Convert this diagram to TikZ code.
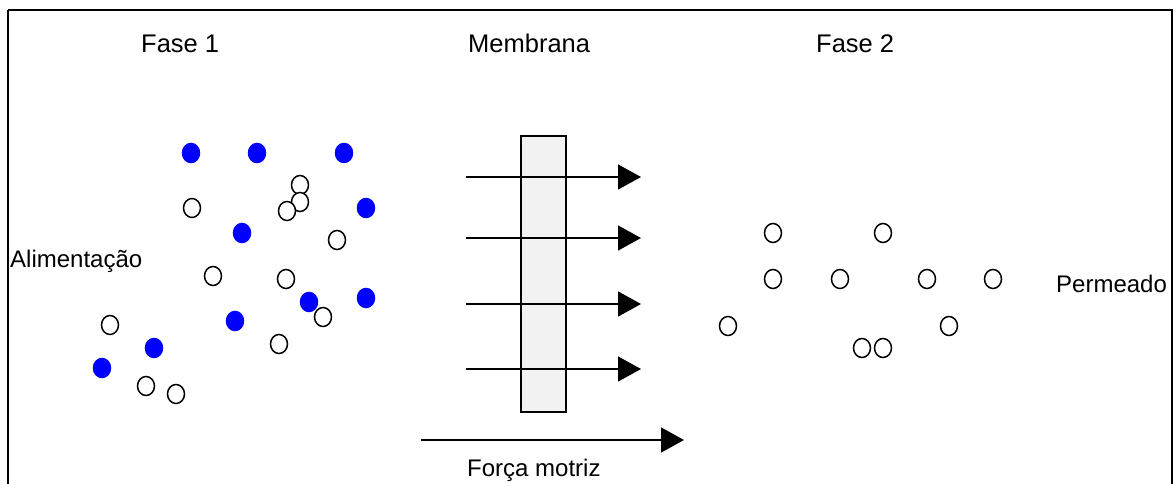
\documentclass[tikz,border=0pt]{standalone}
\usepackage{fontspec}
\setmainfont{Liberation Sans}
\usetikzlibrary{arrows.meta,shapes.geometric}
\definecolor{molblue}{RGB}{0,0,255}
\definecolor{membfill}{RGB}{242,242,242}
\begin{document}
\begin{tikzpicture}[x=1pt,y=-1pt,
  mol/.style={ellipse,draw=black,line width=1.5pt,minimum width=17pt,minimum height=19pt,inner sep=0pt},
  openmol/.style={mol,fill=white},
  bluemol/.style={mol,draw=molblue,fill=molblue},
  label/.style={anchor=base west,inner sep=0pt,font=\fontsize{24}{28}\selectfont},
  title/.style={label,font=\fontsize{25.5}{30}\selectfont},
  flux/.style={line width=1.4pt,-{Triangle[length=23pt,width=25pt]}}
]
\useasboundingbox (0,0) rectangle (1176,484);
\fill[white] (0,0) rectangle (1176,484);
% outer frame (open at the bottom edge of the page)
\draw[line width=2pt] (8,10) -- (8,500) (8,10) -- (1172,10) -- (1172,500);

% titles and labels
\node[title] (fase1) at (141,53) {Fase 1};
\node[title] (memb) at (468,53) {Membrana};
\node[title] (fase2) at (816,53) {Fase 2};
\node[label] (alim) at (10,267) {Alimentação};
\node[label] (perm) at (1056,292) {Permeado};
\node[label] (forca) at (467,476) {Força motriz};

% membrane
\node[draw=black,line width=1.4pt,fill=membfill,minimum width=45pt,minimum height=276pt,inner sep=0pt] (membrane) at (543.5,274) {};

% transport arrows across the membrane
\foreach \i/\y in {1/177,2/238,3/304,4/369}{
  \coordinate (in\i) at (466,\y);
  \coordinate (out\i) at (641,\y);
  \draw[flux] (in\i) -- (out\i);
}
% driving force
\coordinate (fstart) at (421,440);
\coordinate (fend) at (684,440);
\draw[flux] (fstart) -- (fend);

% phase 1: retained (blue) and permeating (open) species
\foreach \n/\x/\y in {b1/191/153,b2/257/153,b3/344/153,b4/366/208,b5/242/233,b6/309/302,b7/366/298,b8/235/321,b9/154/348,b10/102/368}{
  \node[bluemol] (\n) at (\x,\y) {};
}
\foreach \n/\x/\y in {w1/300/185,w2/300/202,w3/287/211,w4/192/208,w5/337/240,w6/213/276,w7/286/279,w8/323/317,w9/279/344,w10/110/325,w11/146/386,w12/176/394}{
  \node[openmol] (\n) at (\x,\y) {};
}
% phase 2: permeate
\foreach \n/\x/\y in {p1/773/233,p2/883/233,p3/773/279,p4/840/279,p5/927/279,p6/993/279,p7/728/326,p8/949/326,p9/862/348,p10/883/348}{
  \node[openmol] (\n) at (\x,\y) {};
}
\end{tikzpicture}
\end{document}
